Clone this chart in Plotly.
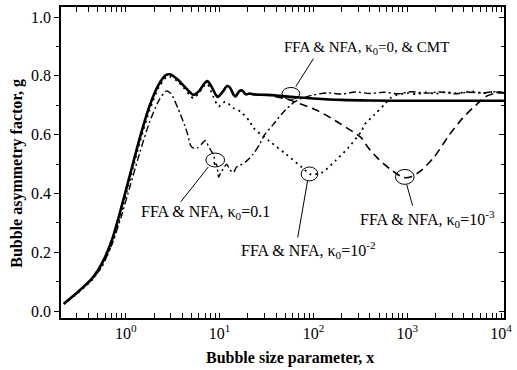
import numpy as np
import plotly.graph_objects as go

# ---- curve data: log10(x) positions and asymmetry factor g ----
# FFA & NFA, kappa0 = 0, & CMT (solid)
solid_logx = [-0.66, -0.5, -0.35, -0.25, -0.15, -0.05, 0.05, 0.15, 0.25, 0.35, 0.43, 0.47,
              0.55, 0.62, 0.68, 0.72, 0.78, 0.84, 0.87, 0.91, 0.96, 0.98, 1.03, 1.08, 1.11,
              1.15, 1.17, 1.21, 1.24, 1.28, 1.32, 1.36, 1.5, 1.7, 2.0, 2.3, 2.6, 3.0, 4.03]
solid_g = [0.025, 0.068, 0.115, 0.165, 0.24, 0.35, 0.47, 0.59, 0.695, 0.77, 0.803, 0.805,
           0.788, 0.765, 0.745, 0.735, 0.748, 0.775, 0.782, 0.765, 0.735, 0.728, 0.745, 0.765, 0.76,
           0.735, 0.73, 0.748, 0.75, 0.737, 0.74, 0.737, 0.735, 0.73, 0.723, 0.718, 0.716, 0.715, 0.715]

# FFA & NFA, kappa0 = 1e-2 (dotted)
dot_logx = [-0.66, -0.5, -0.35, -0.25, -0.15, -0.05, 0.05, 0.15, 0.25, 0.35, 0.43, 0.47,
            0.55, 0.62, 0.68, 0.72, 0.78, 0.84, 0.87, 0.93, 0.99, 1.06, 1.15, 1.22, 1.32,
            1.36, 1.53, 1.71, 1.88, 1.97, 2.09, 2.23, 2.37, 2.51, 2.545, 2.65, 2.75, 2.82,
            2.89, 3.0, 3.1, 3.2, 3.3, 3.4, 3.5, 3.6, 3.7, 3.8, 3.9, 4.03]
dot_g = [0.024, 0.065, 0.11, 0.155, 0.228, 0.335, 0.455, 0.575, 0.68, 0.76, 0.795, 0.797,
         0.782, 0.758, 0.735, 0.724, 0.742, 0.768, 0.772, 0.73, 0.696, 0.712, 0.69, 0.679, 0.645,
         0.623, 0.578, 0.533, 0.488, 0.465, 0.471, 0.51, 0.555, 0.611, 0.634, 0.668, 0.70, 0.724,
         0.735, 0.741, 0.738, 0.744, 0.739, 0.745, 0.741, 0.743, 0.747, 0.741, 0.745, 0.742]

# FFA & NFA, kappa0 = 1e-3 (dashed)
dash_logx = [-0.66, -0.5, -0.35, -0.25, -0.15, -0.05, 0.05, 0.15, 0.25, 0.35, 0.43, 0.47,
             0.55, 0.62, 0.68, 0.72, 0.78, 0.84, 0.87, 0.91, 0.96, 0.98, 1.03, 1.08, 1.11,
             1.15, 1.17, 1.21, 1.24, 1.28, 1.32, 1.36, 1.5, 1.7, 1.9, 2.06, 2.3, 2.51, 2.58,
             2.68, 2.82, 2.96, 3.05, 3.14, 3.28, 3.45, 3.59, 3.73, 3.84, 3.94, 4.03]
dash_g = [0.025, 0.068, 0.115, 0.165, 0.24, 0.35, 0.47, 0.59, 0.695, 0.77, 0.803, 0.805,
          0.788, 0.765, 0.745, 0.735, 0.748, 0.775, 0.782, 0.765, 0.735, 0.728, 0.745, 0.765, 0.76,
          0.735, 0.73, 0.748, 0.75, 0.737, 0.74, 0.737, 0.735, 0.722, 0.70, 0.679, 0.634, 0.589, 0.557,
          0.521, 0.482, 0.454, 0.458, 0.476, 0.521, 0.60, 0.656, 0.70, 0.73, 0.741, 0.742]

# FFA & NFA, kappa0 = 0.1 (dash-dot)
dd_logx = [-0.66, -0.5, -0.35, -0.25, -0.15, -0.05, 0.05, 0.15, 0.25, 0.35, 0.43, 0.48,
           0.555, 0.625, 0.66, 0.694, 0.73, 0.764, 0.82, 0.85, 0.88, 0.90, 0.94, 0.946, 0.965,
           0.99, 1.01, 1.026, 1.076, 1.11, 1.146, 1.18, 1.216, 1.286, 1.355, 1.425, 1.48, 1.57,
           1.67, 1.78, 1.88, 2.0, 2.15, 2.3, 2.45, 2.6, 2.75, 2.9, 3.05, 3.2, 3.35, 3.5, 3.65,
           3.8, 3.95, 4.03]
dd_g = [0.025, 0.066, 0.11, 0.155, 0.225, 0.32, 0.43, 0.54, 0.64, 0.715, 0.748, 0.74,
        0.69, 0.634, 0.60, 0.561, 0.553, 0.555, 0.572, 0.58, 0.56, 0.55, 0.527, 0.499, 0.50,
        0.455, 0.47, 0.478, 0.499, 0.48, 0.471, 0.49, 0.495, 0.51, 0.533, 0.566, 0.60, 0.634,
        0.673, 0.707, 0.724, 0.735, 0.742, 0.738, 0.745, 0.74, 0.744, 0.739, 0.746, 0.741,
        0.745, 0.739, 0.744, 0.742, 0.746, 0.743]

x_tick_vals = [1, 10, 100, 1000, 10000]
x_tick_text = ["10<sup>0</sup>", "10<sup>1</sup>", "10<sup>2</sup>", "10<sup>3</sup>", "10<sup>4</sup>"]
y_tick_vals = [0.0, 0.2, 0.4, 0.6, 0.8, 1.0]
y_tick_text = ["0.0", "0.2", "0.4", "0.6", "0.8", "1.0"]

X_RANGE = [-0.691, 4.031]
Y_RANGE = [-0.0236, 1.034]

FONT = "Liberation Serif"

fig = go.Figure()

def add_curve(lx, g, dash, width):
    fig.add_trace(go.Scatter(
        x=10 ** np.array(lx), y=g, mode="lines",
        line=dict(color="black", width=width, dash=dash, shape="spline", smoothing=0.7),
        showlegend=False, hoverinfo="skip"))

add_curve(dd_logx, dd_g, "7px,3px,2px,3px", 1.4)
add_curve(dot_logx, dot_g, "2px,4px", 1.8)
add_curve(dash_logx, dash_g, "8px,5px", 1.6)
add_curve(solid_logx, solid_g, "solid", 2.6)

# invisible helper trace so the right-hand tick axis is rendered
fig.add_trace(go.Scatter(x=[1], y=[0.5], yaxis="y2", mode="none",
                         showlegend=False, hoverinfo="skip"))

minor_x = [m * 10 ** d for d in range(-1, 4) for m in range(2, 10)]
minor_x = [v for v in minor_x if 10 ** X_RANGE[0] <= v <= 10 ** X_RANGE[1]]

L, R, T, B = 61, 512, 5, 318
W, H = 517, 370

def px(xp):
    return (xp - L) / (R - L)

def py(yp):
    return (B - yp) / (B - T)

fig.update_layout(
    width=W, height=H, autosize=False,
    margin=dict(l=L, r=W - R, t=T, b=H - B, pad=0),
    paper_bgcolor="white", plot_bgcolor="white",
    font=dict(family=FONT, size=16, color="black"),
    xaxis=dict(
        type="log", range=X_RANGE, tickmode="array", tickvals=x_tick_vals, ticktext=x_tick_text,
        ticks="inside", ticklen=5, tickwidth=1, tickcolor="black", ticklabeloverflow="allow",
        minor=dict(tickmode="array", tickvals=minor_x, ticks="inside", ticklen=3,
                   tickcolor="black", showgrid=False),
        showline=True, linecolor="black", linewidth=1.5, mirror="allticks",
        showgrid=False, zeroline=False, tickfont=dict(family=FONT, size=16),
    ),
    yaxis=dict(
        range=Y_RANGE, tickmode="array", tickvals=y_tick_vals, ticktext=y_tick_text,
        ticks="outside", ticklen=5, tickwidth=1, tickcolor="black",
        minor=dict(dtick=0.1, ticks="outside", ticklen=3, tickcolor="black", showgrid=False),
        showline=True, linecolor="black", linewidth=1.5, mirror=True,
        showgrid=False, zeroline=False, tickfont=dict(family=FONT, size=16),
    ),
    yaxis2=dict(
        overlaying="y", side="right", range=Y_RANGE, tickmode="array", tickvals=y_tick_vals,
        ticks="inside", ticklen=5, tickcolor="black", showticklabels=False,
        minor=dict(dtick=0.1, ticks="inside", ticklen=3, tickcolor="black", showgrid=False),
        showline=False, showgrid=False, zeroline=False,
    ),
)

# axis titles
fig.add_annotation(text="<b>Bubble size parameter, x</b>", xref="paper", yref="paper",
                   x=px(294), y=py(358), xanchor="center", yanchor="middle", showarrow=False,
                   font=dict(family=FONT, size=16))
fig.add_annotation(text="<b>Bubble asymmetry factor, g</b>", xref="paper", yref="paper",
                   x=px(16), y=py(172), xanchor="center", yanchor="middle", showarrow=False,
                   textangle=-90, font=dict(family=FONT, size=16))

# curve labels: text, font size, left edge, vertical centre, leader line, ellipse (pixels)
labels = [
    ("FFA & NFA, κ<sub>0</sub>=0, & CMT", 15, 286, 46, (300, 85, 318, 57), (295, 92, 9, 6)),
    ("FFA & NFA, κ<sub>0</sub>=0.1", 16, 140, 212, (211, 166, 183, 201), (218, 159, 9.5, 7)),
    ("FFA & NFA, κ<sub>0</sub>=10<sup>-2</sup>", 16, 242, 250, (312, 180, 302, 237), (314, 173, 8.5, 7)),
    ("FFA & NFA, κ<sub>0</sub>=10<sup>-3</sup>", 16, 363, 218, (413, 184, 419, 205), (411, 176, 9.5, 7.5)),
]
for text, fs, tx, ty, ln, el in labels:
    fig.add_annotation(text=text, xref="paper", yref="paper", x=px(tx), y=py(ty),
                       xanchor="left", yanchor="middle", showarrow=False,
                       font=dict(family=FONT, size=fs))
    fig.add_shape(type="line", xref="paper", yref="paper",
                  x0=px(ln[0]), y0=py(ln[1]), x1=px(ln[2]), y1=py(ln[3]),
                  line=dict(color="black", width=1))
    cx, cy, rx, ry = el
    fig.add_shape(type="circle", xref="paper", yref="paper",
                  x0=px(cx - rx), x1=px(cx + rx), y0=py(cy + ry), y1=py(cy - ry),
                  line=dict(color="black", width=1))

fig.write_html("out.html")
